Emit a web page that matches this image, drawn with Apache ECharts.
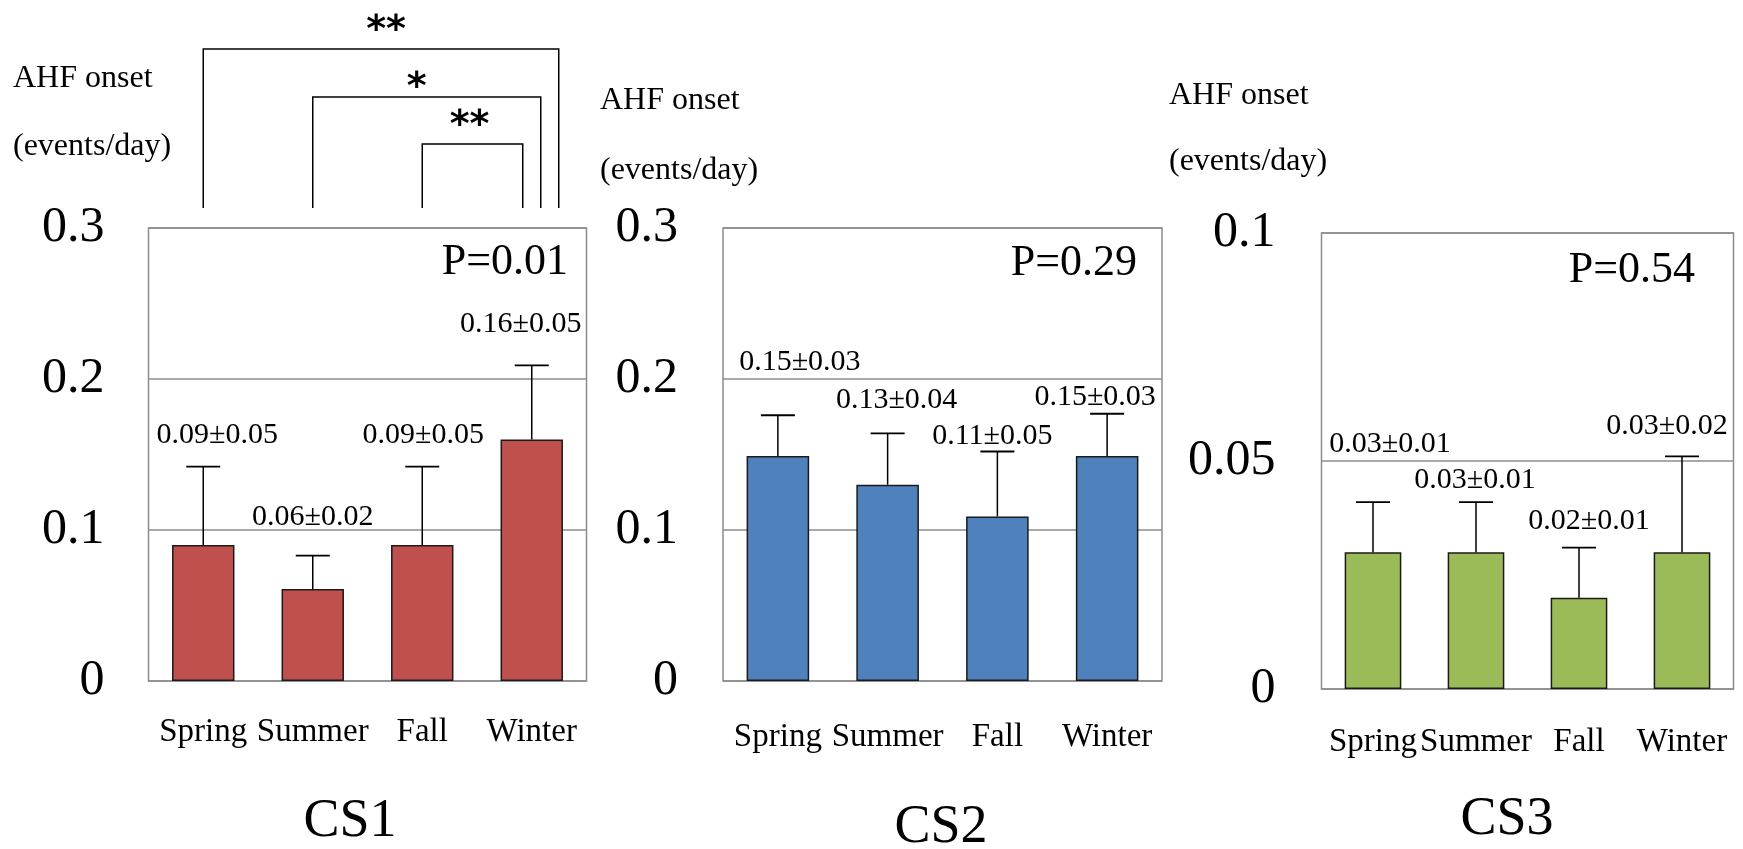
<!DOCTYPE html>
<html>
<head>
<meta charset="utf-8">
<title>AHF onset by season</title>
<script src="https://cdn.jsdelivr.net/npm/echarts@6/dist/echarts.min.js"></script>
<style>
    html, body { margin: 0; padding: 0; background: #fff; }
    #main { width: 1743px; height: 849px; }
</style>
</head>
<body>
<div id="main"></div>
<script>
// 数据
var seasons = ['Spring', 'Summer', 'Fall', 'Winter'];
var panelNames = ['CS1', 'CS2', 'CS3'];
var pValues = ['P=0.01', 'P=0.29', 'P=0.54'];

var cs1Mean = [0.090, 0.061, 0.090, 0.160];
var cs1Err  = [0.052, 0.022, 0.052, 0.049];
var cs1Text = ['0.09±0.05', '0.06±0.02', '0.09±0.05', '0.16±0.05'];

var cs2Mean = [0.149, 0.130, 0.109, 0.149];
var cs2Err  = [0.027, 0.034, 0.043, 0.028];
var cs2Text = ['0.15±0.03', '0.13±0.04', '0.11±0.05', '0.15±0.03'];

var cs3Mean = [0.030, 0.030, 0.020, 0.030];
var cs3Err  = [0.011, 0.011, 0.011, 0.021];
var cs3Text = ['0.03±0.01', '0.03±0.01', '0.02±0.01', '0.03±0.02'];

var yTicks12 = [0, 0.1, 0.2, 0.3];
var yTicks3  = [0, 0.05, 0.1];

// CS1 pairwise comparisons: [from, to, mark]
var cs1Pairs = [[0, 3, '**'], [1, 3, '*'], [2, 3, '**']];

(function(win){
    var SERIF = '"Liberation Serif", "Times New Roman", serif';

    /** 面板布局 */
    var panels = [
        {
            mean: cs1Mean, err: cs1Err, text: cs1Text, ticks: yTicks12, color: '#C0504D',
            grid: {left: 148.5, top: 228, width: 438, height: 453},
            barWidth: '57%', xMargin: 35, yMargin: 44,
            labelOff: [[14, -31], [0, -39], [1, -31], [-11, -41]],
            name: [13, 79, 147], title: [350, 822], p: [568, 262]
        },
        {
            mean: cs2Mean, err: cs2Err, text: cs2Text, ticks: yTicks12, color: '#4F81BD',
            grid: {left: 723, top: 228, width: 439, height: 453},
            barWidth: '57%', xMargin: 40, yMargin: 45,
            labelOff: [[22, -53], [9, -33], [-5, -15], [-12, -17]],
            name: [600, 101, 171], title: [941, 828], p: [1137, 263]
        },
        {
            mean: cs3Mean, err: cs3Err, text: cs3Text, ticks: yTicks3, color: '#9BBB59',
            grid: {left: 1321.5, top: 233, width: 412, height: 456},
            barWidth: '55%', xMargin: 37, yMargin: 46,
            labelOff: [[17, -58], [-1, -22], [10, -27], [-15, -30]],
            name: [1169, 96, 162], title: [1507, 820], p: [1695, 270]
        }
    ];

    // brackets above CS1: right end shift, height above plot top, mark shift
    var bracketLayout = [
        {rightDx: 27, rise: 179, markDx: 5, markDy: -18},
        {rightDx: 9, rise: 131, markDx: -10, markDy: -9},
        {rightDx: -9, rise: 84, markDx: -3, markDy: -18}
    ];

    var textStyle = function(txt, x, y, size, align, family, weight){
        return {
            text: txt, x: x, y: y,
            font: (weight || 'normal') + ' ' + size + 'px ' + (family || SERIF),
            fill: '#000',
            align: align, textAlign: align,
            verticalAlign: 'middle', textVerticalAlign: 'middle'
        };
    };

    /** 误差线 + 数值标签 */
    var errRender = function(panel){
        return function(params, api){
            var k = api.value(0), m = api.value(1), e = api.value(2);
            var p0 = api.coord([k, m]);
            var p1 = api.coord([k, m + e]);
            var off = panel.labelOff[params.dataIndex];
            return {
                type: 'group',
                children: [
                    {type: 'line', shape: {x1: p0[0], y1: p0[1], x2: p1[0], y2: p1[1]},
                        style: {stroke: '#000', lineWidth: 1.5}},
                    {type: 'line', shape: {x1: p1[0] - 17, y1: p1[1], x2: p1[0] + 17, y2: p1[1]},
                        style: {stroke: '#000', lineWidth: 1.8}},
                    {type: 'text', style: textStyle(panel.text[params.dataIndex],
                        p1[0] + off[0], p1[1] + off[1], 30, 'center')}
                ]
            };
        };
    };

    var bracketRender = function(params, api){
        var lay = bracketLayout[params.dataIndex];
        var yTop = yTicks12[yTicks12.length - 1];
        var a = api.coord([api.value(0), yTop]);
        var b = api.coord([api.value(1), yTop]);
        var xl = a[0], xr = b[0] + lay.rightDx;
        var bottom = a[1] - 20, top = a[1] - lay.rise;
        return {
            type: 'group',
            children: [
                {type: 'polyline', shape: {points: [[xl, bottom], [xl, top], [xr, top], [xr, bottom]]},
                    style: {stroke: '#000', lineWidth: 1.5, fill: null}},
                {type: 'text', style: textStyle(cs1Pairs[params.dataIndex][2],
                    (xl + xr) / 2 + lay.markDx, top + lay.markDy, 38, 'center', '"DejaVu Sans", sans-serif', 'bold')}
            ]
        };
    };

    var grids = [], xAxes = [], yAxes = [], series = [], graphics = [];

    for (var i = 0; i < panels.length; i++) {
        var pn = panels[i];
        grids.push($extend({show: true, borderColor: '#8c8c8c', borderWidth: 1.5}, pn.grid));
        xAxes.push({
            gridIndex: i, type: 'category', data: seasons,
            axisLine: {show: false}, axisTick: {show: false},
            axisLabel: {interval: 0, fontFamily: SERIF, fontSize: 33, color: '#000', margin: pn.xMargin}
        });
        yAxes.push({
            gridIndex: i, type: 'value',
            min: pn.ticks[0], max: pn.ticks[pn.ticks.length - 1], interval: pn.ticks[1] - pn.ticks[0],
            axisLine: {show: false}, axisTick: {show: false},
            splitLine: {lineStyle: {color: '#8c8c8c', width: 1.5}},
            axisLabel: {fontFamily: SERIF, fontSize: 50, color: '#000', margin: pn.yMargin}
        });
        series.push({
            type: 'bar', xAxisIndex: i, yAxisIndex: i, data: pn.mean,
            barWidth: pn.barWidth,
            itemStyle: {color: pn.color, borderColor: '#1a1a1a', borderWidth: 1.5}
        });
        series.push({
            type: 'custom', xAxisIndex: i, yAxisIndex: i, z: 5,
            encode: {x: 0, y: 1},
            data: pn.mean.map(function(m, k){ return [k, m, this[k]]; }, pn.err),
            renderItem: errRender(pn)
        });

        graphics.push({type: 'text', style: textStyle('AHF onset', pn.name[0], pn.name[1], 32, 'left')});
        graphics.push({type: 'text', style: textStyle('(events/day)', pn.name[0], pn.name[2], 32, 'left')});
        graphics.push({type: 'text', style: textStyle(panelNames[i], pn.title[0], pn.title[1], 54, 'center')});
        graphics.push({type: 'text', style: textStyle(pValues[i], pn.p[0], pn.p[1], 44, 'right')});
    }

    series.push({
        type: 'custom', xAxisIndex: 0, yAxisIndex: 0, z: 6, clip: false,
        encode: {x: 0, y: -1},
        data: cs1Pairs.map(function(p){ return [p[0], p[1]]; }),
        renderItem: bracketRender
    });

    function $extend(a, b){
        for (var key in b) a[key] = b[key];
        return a;
    }

    var chart = echarts.init(document.getElementById('main'));
    chart.setOption({
        backgroundColor: '#fff',
        animation: false,
        grid: grids,
        xAxis: xAxes,
        yAxis: yAxes,
        series: series,
        graphic: graphics
    });
    $extend(win, {chart: chart});
})(window);
</script>
</body>
</html>
